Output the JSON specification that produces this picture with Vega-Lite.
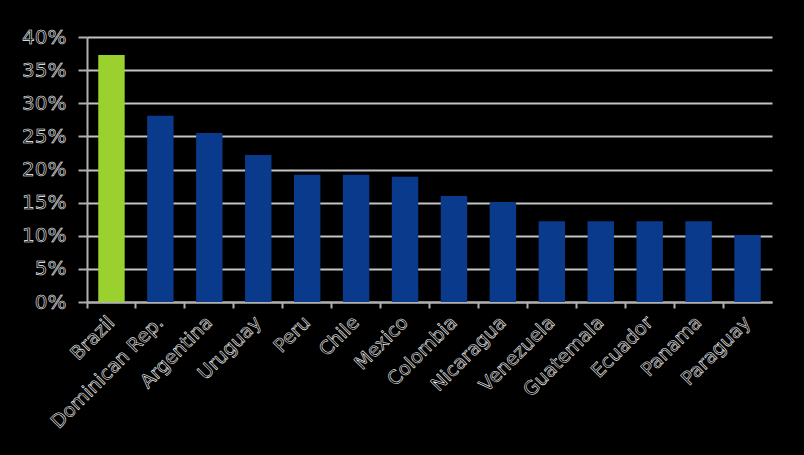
{
  "$schema": "https://vega.github.io/schema/vega-lite/v6.json",
  "width": 685,
  "height": 265,
  "autosize": {"type": "none"},
  "padding": {"left": 87, "top": 37, "right": 32, "bottom": 153},
  "background": "black",
  "config": {
    "view": {"stroke": null},
    "style": {"guide-label": {"stroke": "white", "strokeWidth": 0.55, "fill": "black"}}
  },
  "data": {"values": [
    {"country": "Brazil", "value": 0.373, "hl": "y"},
    {"country": "Dominican Rep.", "value": 0.281, "hl": "n"},
    {"country": "Argentina", "value": 0.255, "hl": "n"},
    {"country": "Uruguay", "value": 0.222, "hl": "n"},
    {"country": "Peru", "value": 0.192, "hl": "n"},
    {"country": "Chile", "value": 0.192, "hl": "n"},
    {"country": "Mexico", "value": 0.189, "hl": "n"},
    {"country": "Colombia", "value": 0.160, "hl": "n"},
    {"country": "Nicaragua", "value": 0.151, "hl": "n"},
    {"country": "Venezuela", "value": 0.122, "hl": "n"},
    {"country": "Guatemala", "value": 0.122, "hl": "n"},
    {"country": "Ecuador", "value": 0.122, "hl": "n"},
    {"country": "Panama", "value": 0.122, "hl": "n"},
    {"country": "Paraguay", "value": 0.101, "hl": "n"}
  ]},
  "resolve": {"axis": {"x": "independent"}},
  "layer": [
    {
      "mark": {"type": "bar", "width": {"band": 0.54}},
      "encoding": {
        "x": {
          "field": "country", "type": "nominal", "sort": null,
          "scale": {"paddingInner": 0, "paddingOuter": 0},
          "axis": {
            "orient": "bottom", "title": null, "labelAngle": -45, "labelAlign": "right", "labelBaseline": "middle",
            "labelFont": "DejaVu Sans", "labelFontSize": 19, "labelColor": "black",
            "labelPadding": 17, "ticks": false,
            "domainColor": "#b0b0b0", "domainWidth": 2, "grid": false
          }
        },
        "y": {
          "field": "value", "type": "quantitative",
          "scale": {"domain": [0, 0.4], "nice": false},
          "axis": {
            "title": null, "format": ".0%", "values": [0, 0.05, 0.1, 0.15, 0.2, 0.25, 0.3, 0.35, 0.4],
            "labelFont": "DejaVu Sans", "labelFontSize": 20, "labelColor": "black",
            "labelPadding": 12,
            "tickColor": "#b0b0b0", "tickSize": 9, "tickWidth": 2,
            "domainColor": "#b0b0b0", "domainWidth": 2,
            "grid": true, "gridColor": "#c4c4c4", "gridWidth": 2
          }
        },
        "color": {
          "field": "hl", "type": "nominal",
          "scale": {"domain": ["y", "n"], "range": ["#9bd12e", "#0a3a8c"]},
          "legend": null
        }
      }
    },
    {
      "mark": {"type": "rule", "opacity": 0},
      "encoding": {
        "x": {
          "field": "country", "type": "nominal", "sort": null,
          "axis": {
            "orient": "bottom", "title": null, "labels": false, "bandPosition": 0,
            "tickColor": "#b0b0b0", "tickSize": 6, "tickWidth": 2,
            "domain": false, "grid": false
          }
        }
      }
    }
  ]
}
